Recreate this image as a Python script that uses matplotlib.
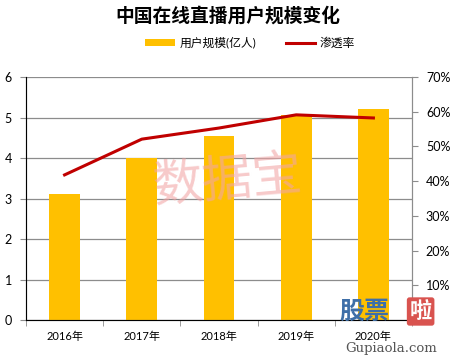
import numpy as np
import matplotlib.pyplot as plt
from matplotlib.ticker import FuncFormatter

plt.rcParams['font.family'] = ['Lato', 'Noto Sans CJK SC', 'DejaVu Sans']

# datos
years = ['2016年', '2017年', '2018年', '2019年', '2020年']
users = [3.1, 4.0, 4.55, 5.05, 5.21]          # 用户规模(亿人)
rate = [0.418, 0.521, 0.553, 0.591, 0.582]    # 渗透率

x = np.arange(len(years))

fig = plt.figure(figsize=(4.55, 3.56), dpi=100)
ax1 = fig.add_axes([0.0571, 0.1011, 0.8484, 0.6826])
ax1.bar(x, users, width=0.4, color='#FFC000', zorder=2, label='用户规模(亿人)')
ax1.set_ylim(0, 6)
ax1.set_xlim(-0.5, 4.5)
ax1.set_yticks(range(0, 7))
ax1.grid(axis='y', color='#8c8c8c', linewidth=0.9, zorder=0)
ax1.set_xticks(x)
ax1.set_xticklabels(years, fontsize=8)
ax1.set_xticks(np.arange(-0.5, 5, 1), minor=True)
ax1.tick_params(axis='x', which='major', length=0, pad=8)
ax1.tick_params(axis='x', which='minor', length=4, color='#8c8c8c')
ax1.tick_params(axis='y', labelsize=9, length=4, color='#8c8c8c', pad=6)
ax1.spines['top'].set_visible(False)
for s in ['left', 'bottom', 'right']:
    ax1.spines[s].set_color('#8c8c8c')

ax2 = ax1.twinx()
ax2.plot(x, rate, color='#C00000', linewidth=2.2, label='渗透率', zorder=3)
ax2.set_ylim(0, 0.7)
ax2.set_yticks(np.arange(0.1, 0.71, 0.1))
ax2.yaxis.set_major_formatter(FuncFormatter(lambda v, p: '%d%%' % round(v * 100)))
ax2.tick_params(axis='y', labelsize=9, length=4, color='#8c8c8c', pad=6)
ax2.spines['top'].set_visible(False)
ax2.spines['right'].set_color('#8c8c8c')

# titulo y leyenda
fig.text(0.5, 0.955, '中国在线直播用户规模变化', ha='center', va='center',
         fontsize=13.5, fontweight='bold', family=['Noto Sans CJK SC'])
h1, l1 = ax1.get_legend_handles_labels()
h2, l2 = ax2.get_legend_handles_labels()
fig.legend(h1 + h2, l1 + l2, loc='center', bbox_to_anchor=(0.55, 0.88), ncol=2,
           frameon=False, fontsize=8.5, handlelength=2.5, handleheight=0.6,
           columnspacing=2.5, handletextpad=0.4)

# marcas de agua
fig.text(0.5, 0.49, '数据宝', ha='center', va='center', fontsize=36,
         color='#F2A6A6', alpha=0.6, rotation=5, family=['Noto Sans CJK SC'])
fig.text(0.745, 0.125, '股票', ha='left', va='center', fontsize=18, fontweight='bold',
         color='#3E6FA8', family=['Noto Sans CJK SC'])
fig.text(0.90, 0.125, '啦', ha='left', va='center', fontsize=16, fontweight='bold',
         color='white', family=['Noto Sans CJK SC'],
         bbox=dict(boxstyle='round,pad=0.12', fc='#D9534F', ec='none'))
fig.text(0.86, 0.022, 'Gupiaola.com', ha='center', va='center', fontsize=9.5,
         color='#555555', family=['DejaVu Serif'])

fig.savefig('out.png', dpi=100)
